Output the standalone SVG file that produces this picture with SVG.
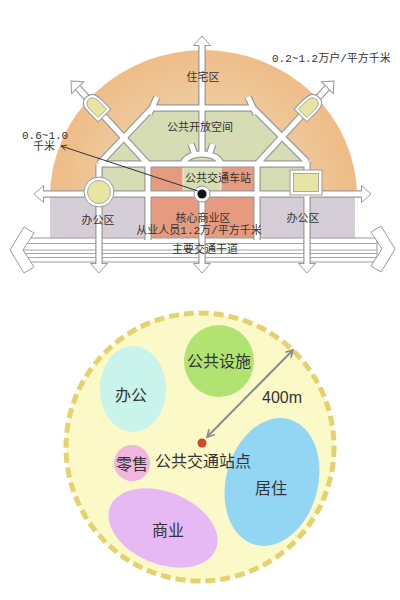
<svg xmlns="http://www.w3.org/2000/svg" xmlns:xlink="http://www.w3.org/1999/xlink" width="400" height="600" viewBox="0 0 400 600">
<style>
.rb{fill:none;stroke:#9a9a9a;stroke-width:7.5;stroke-linejoin:miter}
.rw{fill:none;stroke:#ffffff;stroke-width:5;stroke-linejoin:miter}
.ah{fill:#fff;stroke:#9a9a9a;stroke-width:1}
.node{fill:#fff;stroke:#9a9a9a;stroke-width:1}
.yel{fill:#e8e4a2;stroke:#9a9a9a;stroke-width:0.8}
.red{fill:#e69b80;stroke:#f3e6e0;stroke-width:1.2}
.t{font-family:"Noto Sans CJK SC","Noto Sans",sans-serif;fill:#333;font-size:11px}
.m{font-family:"Liberation Mono","Noto Sans CJK SC",monospace;fill:#333;font-size:11px}
.b{font-family:"Noto Sans CJK SC","Noto Sans",sans-serif;fill:#333;font-size:16px;text-anchor:middle}
</style>
<defs>
<radialGradient id="tan" gradientUnits="userSpaceOnUse" cx="203" cy="197" r="155">
<stop offset="0.45" stop-color="#eed0a8"/>
<stop offset="1" stop-color="#efbb85"/>
</radialGradient>
<polygon id="ahead" points="0,0 8.5,9.5 -8.5,9.5"/>
<path id="pent" d="M-9,12 H9 V-2 Q9,-14 0,-14 Q-9,-14 -9,-2 Z"/>
<path id="pentin" d="M-6,9 H6 V-2 Q6,-10.5 0,-10.5 Q-6,-10.5 -6,-2 Z"/>
<path id="roads" d="M42,194 H362 M202,45 V154 M183,165 A19,11 0 0 1 221,165 M195,155 L191,144 M209,155 L213,144 M99,164 H307 M202,198 V264 M99,164 V264 M307,162 V264 M148,164 V240 M257,164 V240 M152,108 H253 M152,108 L99,164 M253,108 L307,162 M149,114 L157,97 M248,97 L256,114 M78,88 L148,164 M327,88 L257,164"/>
<marker id="chev" viewBox="0 0 10 10" refX="8" refY="5" markerWidth="5" markerHeight="5" orient="auto-start-reverse" markerUnits="strokeWidth">
<path d="M1,1 L8,5 L1,9" fill="none" stroke="#8a8a8a" stroke-width="1.6"/>
</marker>
<marker id="dimarr" viewBox="0 0 10 10" refX="1" refY="5" markerWidth="7" markerHeight="7" orient="auto" markerUnits="userSpaceOnUse">
<path d="M9,1 L1,5 L9,9" fill="none" stroke="#333" stroke-width="1.2"/>
</marker>
</defs>
<rect width="400" height="600" fill="#fff"/>

<g id="zones">
<g id="residential"><path d="M50,197 A153.5,147 0 0 1 357,197 Z" fill="url(#tan)"/></g>
<g id="openspace"><polygon points="152,108 253,108 307,162 307,196 99,196 99,164" fill="#d6dcb3"/></g>
<g id="core">
<rect x="148" y="164" width="35" height="30" class="red"/>
<rect x="221" y="164" width="36" height="30" class="red"/>
<rect x="148" y="196" width="109" height="44" class="red"/>
</g>
<g id="office-left"><rect x="50" y="196" width="98" height="44" fill="#d6ced6"/></g>
<g id="office-right"><rect x="257" y="196" width="98" height="44" fill="#d6ced6"/></g>
</g>

<g id="main-road">
<rect x="23" y="238" width="354" height="24" fill="#fff" stroke="#9a9a9a" stroke-width="1"/>
<path d="M23,243.5 H377 M23,250 H377 M23,253.5 H377 M23,257.5 H377" stroke="#a5a5a5" stroke-width="1" fill="none"/>
<polygon class="ah" points="10,250 24,227 34,233 23,250 34,267 24,273"/>
<polygon class="ah" points="395,249 381,226 371,232 382,249 371,266 381,272"/>
</g>

<g id="connectors">
<use xlink:href="#roads" class="rb"/>
<use xlink:href="#ahead" class="ah" transform="translate(202,36)"/>
<use xlink:href="#ahead" class="ah" transform="translate(34,194) rotate(-90)"/>
<use xlink:href="#ahead" class="ah" transform="translate(371,194) rotate(90)"/>
<use xlink:href="#ahead" class="ah" transform="translate(99,273) rotate(180)"/>
<use xlink:href="#ahead" class="ah" transform="translate(202,273) rotate(180)"/>
<use xlink:href="#ahead" class="ah" transform="translate(307,273) rotate(180)"/>
<use xlink:href="#ahead" class="ah" transform="translate(71,81) rotate(-45)"/>
<use xlink:href="#ahead" class="ah" transform="translate(334,81) rotate(45)"/>
<use xlink:href="#roads" class="rw"/>
</g>

<g id="node-circle">
<circle cx="99" cy="192" r="15" class="node"/>
<circle cx="99" cy="192" r="11.5" class="yel"/>
</g>
<g id="node-square">
<rect x="290" y="170" width="32" height="25" class="node"/>
<rect x="293.5" y="173.5" width="25" height="18" class="yel"/>
</g>
<g id="node-pent-left" transform="translate(96,107) rotate(-45)">
<use xlink:href="#pent" class="node"/>
<use xlink:href="#pentin" class="yel"/>
</g>
<g id="node-pent-right" transform="translate(309,107) rotate(45)">
<use xlink:href="#pent" class="node"/>
<use xlink:href="#pentin" class="yel"/>
</g>
<g id="node-station">
<circle cx="202" cy="194" r="8" class="node"/>
<circle cx="202" cy="194" r="4.6" fill="#111"/>
</g>

<g id="dimension">
<line x1="61" y1="146" x2="198" y2="191" stroke="#333" stroke-width="1" marker-start="url(#dimarr)"/>
</g>

<g id="labels-top">
<text class="t" x="203" y="81" text-anchor="middle">住宅区</text>
<text class="t" x="200" y="131" text-anchor="middle">公共开放空间</text>
<text class="t" x="185" y="182" font-size="10.5">公共交通车站</text>
<text class="t" x="203" y="222" text-anchor="middle">核心商业区</text>
<text class="m" x="199" y="234" text-anchor="middle" font-size="10">从业人员1.2万/平方千米</text>
<text class="t" x="205" y="253" text-anchor="middle" font-size="10.5">主要交通干道</text>
<text class="t" x="98" y="224" text-anchor="middle">办公区</text>
<text class="t" x="303" y="222" text-anchor="middle">办公区</text>
<text class="m" x="272" y="62">0.2~1.2万户/平方千米</text>
<text class="m" x="22" y="139">0.6~1.0</text>
<text class="m" x="33" y="150">千米</text>
</g>

<g id="tod-circle">
<circle cx="200" cy="447" r="134" fill="#fbf9c8" stroke="#e4d26e" stroke-width="5" stroke-dasharray="10 5"/>
</g>
<g id="node-public"><ellipse cx="219" cy="361" rx="35" ry="36" fill="#b0e372"/><text class="b" x="219" y="367">公共设施</text></g>
<g id="node-office"><ellipse cx="133" cy="389" rx="33" ry="43" fill="#c9f4ec"/><text class="b" x="131" y="401">办公</text></g>
<g id="node-retail"><circle cx="132" cy="463" r="18" fill="#f1b5df"/><text class="b" x="132" y="470" font-size="15">零售</text></g>
<g id="node-commerce"><ellipse cx="163" cy="528" rx="57" ry="36" transform="rotate(22 163 528)" fill="#e6b9f4"/><text class="b" x="168" y="536">商业</text></g>
<g id="node-residence"><ellipse cx="272" cy="482" rx="46" ry="65" transform="rotate(15 272 482)" fill="#93d6f3"/><text class="b" x="271" y="494">居住</text></g>
<g id="node-stop"><circle cx="202" cy="443" r="4.5" fill="#d2472a"/><text class="b" x="203" y="467" font-size="14.5">公共交通站点</text></g>
<g id="radius">
<line x1="207" y1="437" x2="293" y2="350" stroke="#8a8a8a" stroke-width="2" marker-start="url(#chev)" marker-end="url(#chev)"/>
<text x="282" y="403" font-family="Liberation Sans, Arial, sans-serif" font-size="16" fill="#333" text-anchor="middle">400m</text>
</g>
</svg>
